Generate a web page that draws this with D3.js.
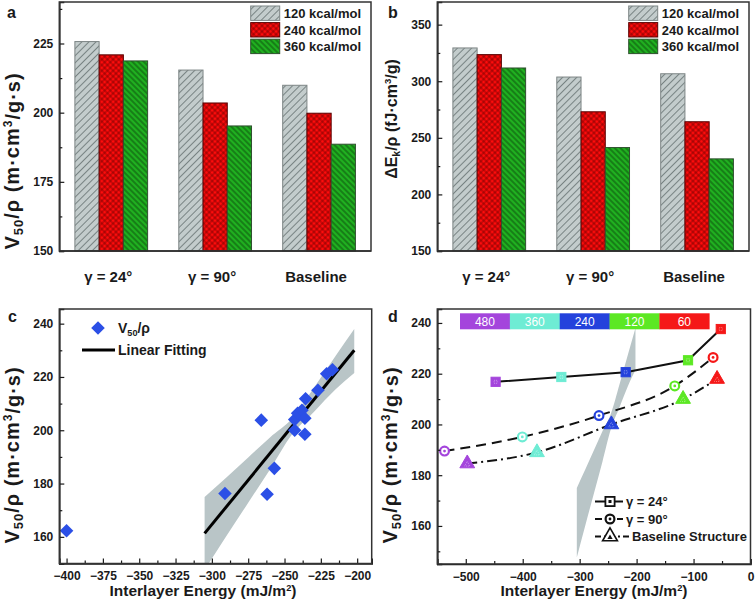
<!DOCTYPE html>
<html><head><meta charset="utf-8">
<script src="https://cdn.jsdelivr.net/npm/d3@7"></script>
<style>body{margin:0;background:#fff} svg{font-family:"Liberation Sans",Arial,sans-serif}</style>
</head><body><svg id="chart" width="756" height="608"></svg>
<script>
// ---------- data ----------
const categories = ["γ = 24°", "γ = 90°", "Baseline"];
const seriesNames = ["120 kcal/mol", "240 kcal/mol", "360 kcal/mol"];
const v50_120 = [225.7, 215.4, 209.9];
const v50_240 = [220.9, 203.5, 199.8];
const v50_360 = [218.7, 195.2, 188.6];
const ek_120 = [329.4, 303.7, 306.6];
const ek_240 = [323.5, 273.0, 264.2];
const ek_360 = [311.7, 241.4, 231.4];
const aTicks = [150, 175, 200, 225];
const aMinor = [162.5, 187.5, 212.5, 237.5];
const bTicks = [150, 200, 250, 300, 350];
const bMinor = [175, 225, 275, 325];

const cEnergy = [-400, -291, -266, -262, -257, -243, -243, -241, -238, -236, -236, -235.5, -227, -221, -217];
const cV50    = [162.3, 176.3, 203.8, 176.0, 185.7, 200.0, 204.0, 206.4, 207.5, 198.5, 204.5, 211.8, 215.0, 221.2, 222.7];
const fitX = [-305, -202];
const fitY = [161.3, 230.0];
const bandX    = [-305, -290, -275, -260, -245, -230, -215, -202];
const bandLow  = [147.6, 160.3, 172.8, 185.3, 198.3, 206.8, 215.3, 221.5];
const bandHigh = [175.0, 182.3, 189.8, 197.3, 204.3, 215.8, 227.8, 238.0];
const cXTicks = [-400, -375, -350, -325, -300, -275, -250, -225, -200];
const cXMinor = [-387.5, -362.5, -337.5, -312.5, -287.5, -262.5, -237.5, -212.5];
const cYTicks = [160, 180, 200, 220, 240];
const cYMinor = [170, 190, 210, 230];

const colorLabels = ["480", "360", "240", "120", "60"];
const pointColors = ["#a445dc", "#6eecd4", "#2442dc", "#5ce823", "#f51818"];
const d24X = [-447.6, -332.2, -219.2, -109.7, -52.2];
const d24Y = [216.8, 218.7, 220.6, 225.3, 237.6];
const d90X = [-537.3, -400.7, -266.0, -133.0, -65.7];
const d90Y = [189.5, 195.1, 203.5, 215.2, 226.4];
const dBaseX = [-497.4, -375.0, -244.3, -118.4, -58.7];
const dBaseY = [184.6, 189.0, 200.0, 210.0, 217.9];
const dSeriesNames = ["γ = 24°", "γ = 90°", "Baseline Structure"];
const dXTicks = [-500, -400, -300, -200, -100, 0];
const dXMinor = [-450, -350, -250, -150, -50];
const dYTicks = [160, 180, 200, 220, 240];
const dYMinor = [150, 170, 190, 210, 230];

// ---------- setup ----------
const svg = d3.select("#chart");
const defs = svg.append("defs");
const INK = "#1a1a1a";

function hatch(id, bg, stroke, angle, cross, sp, sw) {
  const p = defs.append("pattern").attr("id", id).attr("patternUnits", "userSpaceOnUse")
    .attr("width", sp).attr("height", sp).attr("patternTransform", `rotate(${angle})`);
  p.append("rect").attr("width", sp).attr("height", sp).attr("fill", bg);
  p.append("line").attr("x1", sp / 2).attr("x2", sp / 2).attr("y1", 0).attr("y2", sp)
    .attr("stroke", stroke).attr("stroke-width", sw);
  if (cross) p.append("line").attr("y1", sp / 2).attr("y2", sp / 2).attr("x1", 0).attr("x2", sp)
    .attr("stroke", stroke).attr("stroke-width", sw);
}
hatch("p120", "#c3cccc", "#6f7a7a", 45, false, 5, 0.9);
hatch("p240", "#ff0c0c", "#6a0000", 45, true, 4, 0.7);
hatch("p360", "#20b020", "#0b420b", -45, false, 4, 0.9);
const patIds = ["p120", "p240", "p360"];
const barStroke = ["#7d8585", "#5a0000", "#2f4f2f"];

function rich(sel, parts) {
  parts.forEach(p => {
    const t = sel.append("tspan").text(p.t);
    if (p.sub) t.attr("font-size", "65%").attr("dy", "0.3em");
    if (p.sup) t.attr("font-size", "60%").attr("dy", "-0.55em");
    if (p.back) t.attr("dy", p.back);
  });
}
const v50Parts = [{t: "V"}, {t: "50", sub: true}, {t: "/ρ (m·cm", back: "-0.2em"}, {t: "3", sup: true}, {t: "/g·s)", back: "0.36em"}];

function yTitle(cx, cy, parts, size, spacing) {
  const t = svg.append("text").attr("transform", `translate(${cx},${cy}) rotate(-90)`)
    .attr("text-anchor", "middle").attr("dy", "0.35em").attr("font-size", size)
    .attr("font-weight", "bold").attr("fill", INK).attr("letter-spacing", spacing || 0);
  rich(t, parts);
}
function panelLetter(x, y, s) {
  svg.append("text").attr("x", x).attr("y", y).text(s).attr("font-size", 16)
    .attr("font-weight", "bold").attr("fill", INK);
}
function styleAxis(g) {
  g.selectAll("path.domain").attr("stroke", INK).attr("stroke-width", 1.6);
  g.selectAll(".tick line").attr("stroke", INK).attr("stroke-width", 1.2);
  g.selectAll("text").attr("font-size", 12).attr("font-weight", "bold").attr("fill", INK)
    .attr("font-family", "Liberation Sans, Arial, sans-serif");
}
function frame(x0, x1, y0, y1) {
  svg.append("rect").attr("x", x0).attr("y", y0).attr("width", x1 - x0).attr("height", y1 - y0)
    .attr("fill", "none").attr("stroke", "#333").attr("stroke-width", 1.5);
}
function leftAxis(x0, y, major, minor) {
  const g = svg.append("g").attr("transform", `translate(${x0},0)`)
    .call(d3.axisLeft(y).tickValues(major).tickSize(-5).tickPadding(6).tickFormat(d3.format("d")));
  styleAxis(g);
  const m = svg.append("g").attr("transform", `translate(${x0},0)`)
    .call(d3.axisLeft(y).tickValues(minor).tickSize(-3).tickFormat(""));
  styleAxis(m); m.select("path.domain").remove();
}
function bottomAxis(y1, x, major, minor) {
  const g = svg.append("g").attr("transform", `translate(0,${y1})`)
    .call(d3.axisBottom(x).tickValues(major).tickSize(-5).tickPadding(8).tickFormat(d3.format("d")));
  styleAxis(g);
  const m = svg.append("g").attr("transform", `translate(0,${y1})`)
    .call(d3.axisBottom(x).tickValues(minor).tickSize(-3).tickFormat(""));
  styleAxis(m); m.select("path.domain").remove();
}

// ---------- bar panels ----------
function barPanel(o) {
  const x = d3.scaleBand().domain(categories).range([o.x0, o.x1]).paddingInner(0.3).paddingOuter(0.15);
  const xs = d3.scaleBand().domain(seriesNames).range([0, x.bandwidth()]);
  const y = d3.scaleLinear().domain(o.domain).range([o.y1, o.y0]);
  o.series.forEach((vals, i) => {
    svg.append("g").selectAll("rect").data(vals).join("rect")
      .attr("x", (d, j) => x(categories[j]) + xs(seriesNames[i]))
      .attr("y", d => y(d)).attr("width", xs.bandwidth()).attr("height", d => y(o.domain[0]) - y(d))
      .attr("fill", `url(#${patIds[i]})`).attr("stroke", barStroke[i]).attr("stroke-width", 1);
  });
  leftAxis(o.x0, y, o.major, o.minor);
  svg.append("line").attr("x1", o.x0).attr("x2", o.x1).attr("y1", o.y1).attr("y2", o.y1)
    .attr("stroke", INK).attr("stroke-width", 1.6);
  frame(o.x0, o.x1, o.y0, o.y1);
  svg.append("g").selectAll("text").data(categories).join("text")
    .attr("x", d => x(d) + x.bandwidth() / 2 - 3).attr("y", o.y1 + 31).attr("text-anchor", "middle")
    .attr("font-size", 15).attr("font-weight", "bold").attr("fill", INK).text(d => d);
  // legend
  const lg = svg.append("g").attr("transform", `translate(${o.legX},6)`);
  seriesNames.forEach((s, i) => {
    lg.append("rect").attr("x", 0).attr("y", i * 16.6).attr("width", 29).attr("height", 14.4)
      .attr("fill", `url(#${patIds[i]})`).attr("stroke", barStroke[i]).attr("stroke-width", 1);
    lg.append("text").attr("x", 33).attr("y", i * 16.6 + 12).text(s)
      .attr("font-size", 13).attr("font-weight", "bold").attr("fill", INK);
  });
}
barPanel({x0: 59.3, x1: 371, y0: 2, y1: 251, domain: [150, 240], major: aTicks, minor: aMinor,
  series: [v50_120, v50_240, v50_360], legX: 250.7});
barPanel({x0: 437.3, x1: 749, y0: 2, y1: 251, domain: [150, 370], major: bTicks, minor: bMinor,
  series: [ek_120, ek_240, ek_360], legX: 628.7});
panelLetter(7, 18, "a");
panelLetter(388, 18, "b");
yTitle(12, 161, v50Parts, 20, 1);
yTitle(391, 119, [{t: "ΔE"}, {t: "k", sub: true}, {t: "/ρ (fJ·cm", back: "-0.2em"}, {t: "3", sup: true}, {t: "/g)", back: "0.36em"}], 16);

// ---------- panel c ----------
const band = bandX.map((v, i) => ({x: v, lo: bandLow[i], hi: bandHigh[i]}));
{
  const x0 = 59.3, x1 = 371.7, y0 = 309, y1 = 563.5;
  const x = d3.scaleLinear().domain([-405, -190]).range([x0, x1]);
  const y = d3.scaleLinear().domain([150, 245.5]).range([y1, y0]);
  defs.append("clipPath").attr("id", "clipC").append("rect").attr("x", x0).attr("y", y0).attr("width", x1 - x0).attr("height", y1 - y0);
  const g = svg.append("g").attr("clip-path", "url(#clipC)");
  g.append("path").datum(band).attr("fill", "#b9c5c7")
    .attr("d", d3.area().x(d => x(d.x)).y0(d => y(d.lo)).y1(d => y(d.hi)).curve(d3.curveMonotoneX));
  g.append("line").attr("x1", x(fitX[0])).attr("y1", y(fitY[0])).attr("x2", x(fitX[1])).attr("y2", y(fitY[1]))
    .attr("stroke", "#000").attr("stroke-width", 3);
  const dia = d3.symbol(d3.symbolSquare, 92)();
  g.selectAll("path.pt").data(cEnergy).join("path").attr("class", "pt")
    .attr("d", dia).attr("transform", (d, i) => `translate(${x(d)},${y(cV50[i])}) rotate(45)`)
    .attr("fill", "#2b4fe6");
  leftAxis(x0, y, cYTicks, cYMinor);
  bottomAxis(y1, x, cXTicks, cXMinor);
  frame(x0, x1, y0, y1);
  // legend
  svg.append("path").attr("d", dia).attr("transform", "translate(98,328) rotate(45)").attr("fill", "#2b4fe6");
  const t1 = svg.append("text").attr("x", 118).attr("y", 333).attr("font-size", 14).attr("font-weight", "bold").attr("fill", INK);
  rich(t1, [{t: "V"}, {t: "50", sub: true}, {t: "/ρ", back: "-0.2em"}]);
  svg.append("line").attr("x1", 82).attr("x2", 115).attr("y1", 350).attr("y2", 350).attr("stroke", "#000").attr("stroke-width", 3);
  svg.append("text").attr("x", 118).attr("y", 355).attr("font-size", 14).attr("font-weight", "bold").attr("fill", INK).text("Linear Fitting");
  const xt = svg.append("text").attr("x", 203).attr("y", 596).attr("text-anchor", "middle").attr("font-size", 15.5).attr("font-weight", "bold").attr("fill", INK);
  rich(xt, [{t: "Interlayer Energy (mJ/m"}, {t: "2", sup: true}, {t: ")", back: "0.33em"}]);
  panelLetter(8, 322, "c");
  yTitle(12, 455, v50Parts, 20, 1);
}

// ---------- panel d ----------
{
  const x0 = 437.3, x1 = 750.5, y0 = 309, y1 = 564;
  const x = d3.scaleLinear().domain([-550, 0]).range([x0, x1]);
  const y = d3.scaleLinear().domain([145, 245.5]).range([y1, y0]);
  defs.append("clipPath").attr("id", "clipD").append("rect").attr("x", x0).attr("y", y0).attr("width", x1 - x0).attr("height", y1 - y0);
  const g = svg.append("g").attr("clip-path", "url(#clipD)");
  g.append("path").datum(band).attr("fill", "#b9c5c7")
    .attr("d", d3.area().x(d => x(d.x)).y0(d => y(d.lo)).y1(d => y(d.hi)).curve(d3.curveMonotoneX));
  const dashes = [null, "10,6", "10,4,2,4"];
  const curves = [d3.curveLinear, d3.curveMonotoneX, d3.curveMonotoneX];
  const sets = [[d24X, d24Y], [d90X, d90Y], [dBaseX, dBaseY]];
  sets.forEach((s, k) => {
    const pts = s[0].map((v, i) => [v, s[1][i]]);
    const line = d3.line().x(d => x(d[0])).y(d => y(d[1])).curve(curves[k]);
    g.append("path").datum(pts).attr("d", line).attr("fill", "none").attr("stroke", "#111")
      .attr("stroke-width", 2).attr("stroke-dasharray", dashes[k]);
  });
  function marker(sel, kind, cx, cy, col, legend) {
    if (kind === 0) {
      sel.append("rect").attr("x", cx - 4.6).attr("y", cy - 4.6).attr("width", 9.2).attr("height", 9.2)
        .attr("fill", legend ? "#fff" : col).attr("stroke", col).attr("stroke-width", legend ? 1.8 : 1);
      sel.append("rect").attr("x", cx - 1.5).attr("y", cy - 1.5).attr("width", 3).attr("height", 3)
        .attr("fill", legend ? col : "none").attr("stroke", legend ? "none" : "rgba(255,255,255,0.7)")
        .attr("stroke-width", 0.6).attr("stroke-dasharray", "1,1");
    } else if (kind === 1) {
      sel.append("circle").attr("cx", cx).attr("cy", cy).attr("r", 4.4).attr("fill", "#fff")
        .attr("stroke", col).attr("stroke-width", 2.2);
      sel.append("circle").attr("cx", cx).attr("cy", cy).attr("r", 1.4).attr("fill", col);
    } else {
      const tri = d3.symbol(d3.symbolTriangle, 95)();
      sel.append("path").attr("d", tri).attr("transform", `translate(${cx},${cy})`)
        .attr("fill", legend ? "#fff" : col).attr("stroke", col).attr("stroke-width", legend ? 1.6 : 1);
      sel.append("path").attr("d", d3.symbol(d3.symbolTriangle, 12)()).attr("transform", `translate(${cx},${cy + 1})`)
        .attr("fill", legend ? col : "none").attr("stroke", legend ? "none" : "rgba(255,255,255,0.7)")
        .attr("stroke-width", 0.6).attr("stroke-dasharray", "1,1");
    }
  }
  const mg = svg.append("g");
  sets.forEach((s, k) => s[0].forEach((v, i) => marker(mg, k, x(v), y(s[1][i]), pointColors[i], false)));
  // colour bar
  const cbX = 460, cbW = 49.86, cbY = 313.3, cbH = 16;
  colorLabels.forEach((lab, i) => {
    svg.append("rect").attr("x", cbX + i * cbW).attr("y", cbY).attr("width", cbW + 0.3).attr("height", cbH).attr("fill", pointColors[i]);
    svg.append("text").attr("x", cbX + i * cbW + cbW / 2).attr("y", cbY + 12.3).attr("text-anchor", "middle")
      .attr("font-size", 12).attr("fill", "#fff").text(lab);
  });
  leftAxis(x0, y, dYTicks, dYMinor);
  bottomAxis(y1, x, dXTicks, dXMinor);
  frame(x0, x1, y0, y1);
  // legend
  const rows = [501.5, 519, 536.5];
  const legLineEnd = [623, 623, 630];
  const textX = [626, 626, 632];
  rows.forEach((ry, k) => {
    svg.append("line").attr("x1", 595).attr("x2", legLineEnd[k]).attr("y1", ry).attr("y2", ry)
      .attr("stroke", "#111").attr("stroke-width", 2).attr("stroke-dasharray", k === 0 ? null : (k === 1 ? "7,4" : "6,3,2,3"));
    marker(svg, k, 610, ry, "#111", true);
    svg.append("text").attr("x", textX[k]).attr("y", ry + 4.7).attr("font-size", 13).attr("font-weight", "bold")
      .attr("fill", INK).text(dSeriesNames[k]);
  });
  const xt = svg.append("text").attr("x", 594).attr("y", 596).attr("text-anchor", "middle").attr("font-size", 15.5).attr("font-weight", "bold").attr("fill", INK);
  rich(xt, [{t: "Interlayer Energy (mJ/m"}, {t: "2", sup: true}, {t: ")", back: "0.33em"}]);
  panelLetter(388, 322, "d");
  yTitle(390, 455, v50Parts, 20, 1);
}
</script></body></html>
